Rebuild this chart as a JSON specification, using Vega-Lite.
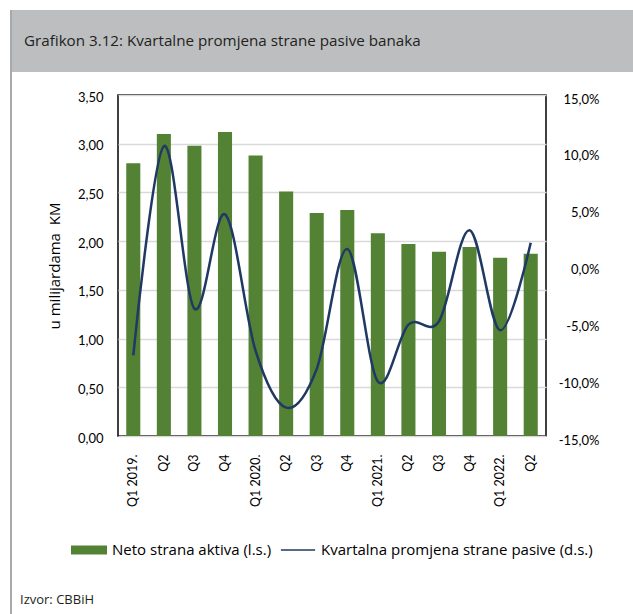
{
  "$schema": "https://vega.github.io/schema/vega-lite/v6.json",
  "background": "white",
  "padding": {"left": 10, "top": 10, "right": 0, "bottom": 0},
  "config": {
    "locale": {"number": {"decimal": ",", "thousands": ".", "grouping": [3], "currency": ["", ""], "minus": "-"}},
    "view": {"stroke": null},
    "font": "Open Sans",
    "concat": {"spacing": 0}
  },
  "datasets": {
    "q": [
      {"period": "Q1 2019.", "aktiva": 2.80, "promjena": -0.079},
      {"period": "Q2 2019", "aktiva": 3.10, "promjena": 0.105},
      {"period": "Q3 2019", "aktiva": 2.98, "promjena": -0.038},
      {"period": "Q4 2019", "aktiva": 3.12, "promjena": 0.045},
      {"period": "Q1 2020.", "aktiva": 2.88, "promjena": -0.075},
      {"period": "Q2 2020", "aktiva": 2.51, "promjena": -0.125},
      {"period": "Q3 2020", "aktiva": 2.29, "promjena": -0.091},
      {"period": "Q4 2020", "aktiva": 2.32, "promjena": 0.0145},
      {"period": "Q1 2021.", "aktiva": 2.08, "promjena": -0.102},
      {"period": "Q2 2021", "aktiva": 1.97, "promjena": -0.052},
      {"period": "Q3 2021", "aktiva": 1.89, "promjena": -0.049},
      {"period": "Q4 2021", "aktiva": 1.94, "promjena": 0.031},
      {"period": "Q1 2022.", "aktiva": 1.83, "promjena": -0.057},
      {"period": "Q2 2022", "aktiva": 1.87, "promjena": 0.020}
    ]
  },
  "spacing": 0,
  "resolve": {"scale": {"color": "independent"}, "legend": {"color": "independent"}},
  "hconcat": [
    {
      "width": 2,
      "height": 604,
      "view": {"fill": "#A7A9AC", "stroke": null},
      "data": {"values": [{"k": ""}]},
      "mark": {"type": "text", "text": "", "opacity": 0}
    },
    {
      "spacing": 18,
      "resolve": {"scale": {"color": "independent"}, "legend": {"color": "independent"}},
      "vconcat": [
        {
          "width": 621,
          "height": 62,
          "view": {"fill": "#BCBEC0", "stroke": null},
          "title": {
            "text": "Grafikon 3.12: Kvartalne promjena strane pasive banaka",
            "anchor": "start",
            "orient": "top",
            "frame": "group",
            "offset": -51,
            "dx": 12,
            "baseline": "alphabetic",
            "font": "Open Sans",
            "fontSize": 15.2,
            "fontWeight": "normal",
            "color": "#231F20"
          },
          "data": {"values": [{"k": ""}]},
          "mark": {"type": "text", "text": "", "opacity": 0}
        },
        {
          "spacing": 0,
          "resolve": {"scale": {"color": "independent"}, "legend": {"color": "independent"}},
          "title": {
            "text": "Izvor: CBBiH",
            "orient": "bottom",
            "anchor": "start",
            "frame": "bounds",
            "offset": 35,
            "dx": 8,
            "font": "Open Sans",
            "fontSize": 13,
            "fontWeight": "normal",
            "color": "#231F20"
          },
          "hconcat": [
            {
              "width": 34,
              "height": 341,
              "view": {"stroke": null},
              "data": {"values": [{"k": ""}]},
              "mark": {"type": "text", "text": "", "opacity": 0}
            },
            {
              "width": 428,
              "height": 341,
              "view": {"stroke": "#000000", "strokeWidth": 1.5},
              "data": {"name": "q"},
              "encoding": {
                "x": {
                  "field": "period",
                  "type": "ordinal",
                  "sort": null,
                  "scale": {"paddingInner": 0.54, "paddingOuter": 0.27},
                  "axis": {
                    "title": null,
                    "labelAngle": -90,
                    "labelExpr": "slice(datum.value,0,2) == 'Q1' ? datum.value : slice(datum.value,0,2)",
                    "ticks": false,
                    "domain": false,
                    "labelPadding": 18,
                    "labelFont": "Lato",
                    "labelFontSize": 12.5,
                    "labelColor": "#000000"
                  }
                }
              },
              "layer": [
                {
                  "mark": {"type": "bar"},
                  "encoding": {
                    "y": {
                      "field": "aktiva",
                      "type": "quantitative",
                      "scale": {"domain": [0, 3.5], "nice": false},
                      "axis": {
                        "values": [0, 0.5, 1, 1.5, 2, 2.5, 3, 3.5],
                        "format": ".2f",
                        "title": "u milijardama\u00a0 KM",
                        "grid": true,
                        "gridColor": "#D9D9D9",
                        "gridWidth": 1.5,
                        "domain": false,
                        "ticks": false,
                        "labelPadding": 15,
                        "labelFont": "Lato",
                        "labelFontSize": 13,
                        "labelColor": "#000000",
                        "labelOffset": 2,
                        "titleFont": "Open Sans",
                        "titleFontSize": 15,
                        "titleFontWeight": "normal",
                        "titleColor": "#000000",
                        "titleX": -56,
                        "titleBaseline": "bottom"
                      }
                    },
                    "color": {
                      "datum": "Neto strana aktiva (l.s.)",
                      "type": "nominal",
                      "scale": {
                        "domain": ["Neto strana aktiva (l.s.)", "Kvartalna promjena strane pasive (d.s.)"],
                        "range": ["#548235", "#1F3864"]
                      },
                      "legend": {
                        "orient": "none",
                        "legendX": -47,
                        "legendY": 437,
                        "direction": "horizontal",
                        "title": null,
                        "labelFont": "Open Sans",
                        "labelFontSize": 15,
                        "labelColor": "#000000",
                        "labelLimit": 400,
                        "labelOffset": 5,
                        "columnPadding": 8,
                        "symbolSize": 1296,
                        "encode": {
                          "symbols": {
                            "update": {
                              "shape": {"signal": "datum.value == 'Neto strana aktiva (l.s.)' ? 'M-1,-0.25H1V0.25H-1Z' : 'M-0.95,-0.04H0.95V0.04H-0.95Z'"},
                              "fill": {"signal": "datum.value == 'Neto strana aktiva (l.s.)' ? '#548235' : '#1F3864'"},
                              "strokeWidth": {"value": 0},
                              "opacity": {"value": 1}
                            }
                          }
                        }
                      }
                    }
                  }
                },
                {
                  "mark": {"type": "line", "interpolate": "cardinal", "strokeWidth": 2.5},
                  "encoding": {
                    "y": {
                      "field": "promjena",
                      "type": "quantitative",
                      "scale": {"domain": [-0.15, 0.15], "nice": false},
                      "axis": {
                        "orient": "right",
                        "values": [-0.15, -0.1, -0.05, 0, 0.05, 0.1, 0.15],
                        "format": ".1%",
                        "title": null,
                        "grid": false,
                        "domain": false,
                        "ticks": false,
                        "labelAlign": "right",
                        "labelPadding": 53,
                        "labelOffset": 4,
                        "labelFont": "Lato",
                        "labelFontSize": 13,
                        "labelColor": "#000000"
                      }
                    },
                    "color": {"datum": "Kvartalna promjena strane pasive (d.s.)", "type": "nominal"}
                  }
                }
              ],
              "resolve": {"scale": {"y": "independent"}}
            }
          ]
        }
      ]
    }
  ]
}
